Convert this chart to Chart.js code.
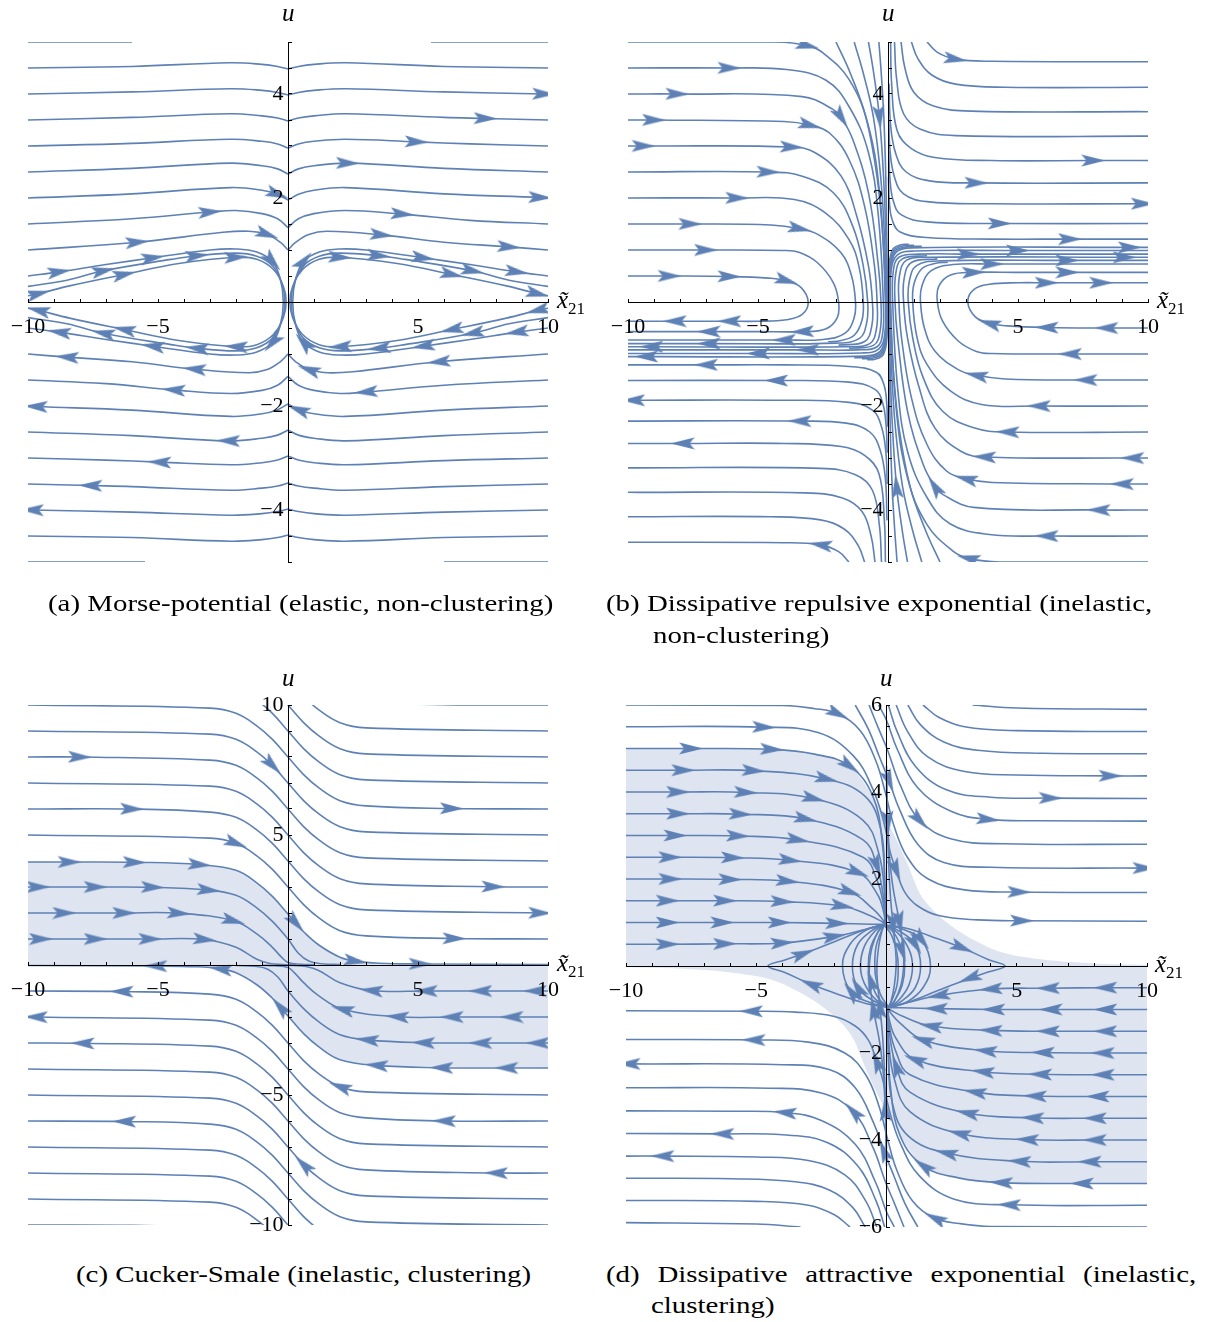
<!DOCTYPE html>
<html>
<head>
<meta charset="utf-8">
<title>Relative-dynamics stream plots</title>
<script src="https://cdn.jsdelivr.net/npm/chart.js@4.4.1/dist/chart.umd.min.js"></script>
<style>
  body { margin: 0; background: #fff; }
  #page { position: relative; width: 1211px; height: 1322px; font-family: "Liberation Serif", serif; color: #000; overflow: hidden; }
  canvas { position: absolute; }
  .ax { position: absolute; font-size: 25px; line-height: 1; white-space: nowrap; }
  .ax i { font-style: italic; }
  .ax sub { font-size: 17px; vertical-align: -6px; }
  .cap { position: absolute; font-size: 23px; line-height: 1; white-space: nowrap; transform-origin: 0 0; }
</style>
</head>
<body>
<div id="page">
  <canvas id="morse" width="600" height="580" style="left:0;top:0"></canvas>
  <canvas id="repel" width="611" height="580" style="left:600px;top:0"></canvas>
  <canvas id="cucker" width="600" height="610" style="left:0;top:640px"></canvas>
  <canvas id="attract" width="611" height="610" style="left:600px;top:640px"></canvas>

  <div class="ax" style="left:282px;top:0"><i>u</i></div>
  <div class="ax" style="left:557px;top:287px"><i>x̃</i><sub>21</sub></div>
  <div class="ax" style="left:882px;top:0"><i>u</i></div>
  <div class="ax" style="left:1157px;top:287px"><i>x̃</i><sub>21</sub></div>
  <div class="ax" style="left:282px;top:665px"><i>u</i></div>
  <div class="ax" style="left:557px;top:950px"><i>x̃</i><sub>21</sub></div>
  <div class="ax" style="left:880px;top:665px"><i>u</i></div>
  <div class="ax" style="left:1155px;top:951px"><i>x̃</i><sub>21</sub></div>

  <div class="cap" id="capA" style="left:48px;top:592px">(a) Morse-potential (elastic, non-clustering)</div>
  <div class="cap" style="left:606px;top:592px">(b) Dissipative repulsive exponential (inelastic,</div>
  <div class="cap" style="left:653px;top:624px">non-clustering)</div>
  <div class="cap" style="left:76px;top:1263px">(c) Cucker-Smale (inelastic, clustering)</div>
  <div class="cap" id="capD" style="left:606px;top:1263px">(d) Dissipative attractive exponential (inelastic,</div>
  <div class="cap" style="left:651px;top:1294px">clustering)</div>
</div>

<script>
// Streamlines as [x, u] points in flow order; a third entry of 1 marks an arrowhead there.
// Each panel is point-symmetric, so only the upper half is listed and the rest is that half turned about the origin.

const xTickLabels = [-10, -5, 5, 10];

// (a) Morse potential
const morseUTicks = [-4, -2, 2, 4];
const morseLeft = [
  [[-10, 5], [-6, 5]],
  [[-10, 4.5], [-6, 4.53], [-2.2, 4.6], [-1, 4.57], [-0.4, 4.53], [0, 4.48]],
  [[-10, 4], [-6, 4.04], [-2.2, 4.1], [-1, 4.07], [-0.4, 4.03], [0, 3.98]],
  [[-10, 3.5], [-6, 3.55], [-2.2, 3.62], [-1, 3.58], [-0.4, 3.54], [0, 3.48]],
  [[-10, 3], [-6, 3.05], [-2.2, 3.13], [-1, 3.09], [-0.4, 3.04], [0, 2.96]],
  [[-10, 2.5], [-6, 2.57], [-2.2, 2.67], [-1, 2.62], [-0.4, 2.56], [0, 2.46]],
  [[-10, 2], [-6, 2.08], [-2.2, 2.2], [-1, 2.15], [-0.4, 2.07, 1], [0, 1.96]],
  [[-10, 1.5], [-6, 1.6], [-3, 1.73, 1], [-2, 1.76], [-1, 1.7], [-0.4, 1.6], [0, 1.43]],
  [[-10, 1], [-5.8, 1.15, 1], [-2.5, 1.34], [-1.5, 1.36], [-0.8, 1.3, 1], [-0.3, 1.15], [0, 1]]
];
const morseRight = [
  [[5.5, 5], [10, 5]],
  [[0, 4.48], [0.4, 4.53], [1, 4.57], [2.2, 4.6], [6, 4.53], [10, 4.5]],
  [[0, 3.98], [0.4, 4.03], [1, 4.07], [2.2, 4.1], [6, 4.04], [9.85, 4, 1], [10, 4]],
  [[0, 3.48], [0.4, 3.54], [1, 3.58], [2.2, 3.62], [6, 3.55], [7.6, 3.53, 1], [10, 3.5]],
  [[0, 2.96], [0.4, 3.04], [1, 3.09], [2.2, 3.13], [4.95, 3.08, 1], [7, 3.04], [10, 3]],
  [[0, 2.46], [0.4, 2.56], [1, 2.62], [2.3, 2.67, 1], [6, 2.57], [10, 2.5]],
  [[0, 1.96], [0.4, 2.07], [1, 2.15], [2.2, 2.2], [6, 2.08], [9.7, 2.01, 1], [10, 2]],
  [[0, 1.43], [0.4, 1.6], [1, 1.7], [2.2, 1.76], [4.4, 1.69, 1], [7, 1.57], [10, 1.5]],
  [[0, 1], [0.3, 1.15], [0.8, 1.3], [1.5, 1.36], [3.6, 1.29, 1], [6, 1.15], [8.5, 1.06, 1], [10, 1]]
];
// upper halves of the turning orbits on the left; the part below the axis is their mirror image
const morseLoops = [
  [[-10, 0.5], [-8.8, 0.58, 1], [-7, 0.72], [-5.2, 0.85, 1], [-3, 1], [-2, 1.02], [-1.2, 0.96], [-0.6, 0.78, 1], [-0.3, 0.45], [-0.18, 0]],
  [[-10, 0.3], [-8.5, 0.42], [-7.1, 0.6, 1], [-4.5, 0.82], [-3.5, 0.89, 1], [-2, 0.94], [-1.2, 0.88], [-0.6, 0.7], [-0.25, 0.38], [-0.12, 0]],
  [[-10, 0.12], [-9.6, 0.16, 1], [-8.4, 0.31], [-6.3, 0.53, 1], [-4.2, 0.74], [-2, 0.86, 1], [-1.2, 0.82], [-0.55, 0.62], [-0.18, 0.3], [-0.07, 0]]
];

// (b) dissipative repulsive exponential
const repelUTicks = [-4, -2, 2, 4];
const repelLeft = [
  [[-10, 0.5], [-8.4, 0.5, 1], [-6.1, 0.49, 1], [-4.6, 0.46], [-3.9, 0.41, 1], [-3.35, 0.28], [-3.07, 0], [-3.3, -0.24], [-3.9, -0.34], [-5, -0.37], [-6.1, -0.37, 1], [-8.2, -0.37, 1], [-10, -0.37]],
  [[-10, 1], [-7, 1, 1], [-4, 0.99], [-3.4, 0.95], [-2.7, 0.75], [-2.1, 0.37], [-1.9, 0], [-1.95, -0.3], [-2.4, -0.52], [-3.3, -0.57, 1], [-5, -0.57], [-6.9, -0.57, 1], [-10, -0.57]],
  [[-10, 1.5], [-7.6, 1.5, 1], [-4.5, 1.48], [-3.4, 1.41, 1], [-2.7, 1.3], [-1.8, 0.94], [-1.4, 0.5], [-1.25, 0], [-1.3, -0.3], [-1.65, -0.6], [-2.5, -0.72], [-4, -0.73, 1], [-10, -0.73]],
  [[-10, 2], [-5.8, 2, 1], [-3.6, 1.97], [-2.4, 1.71], [-1.5, 1.2], [-1.12, 0.69], [-0.95, 0], [-1, -0.35], [-1.3, -0.64], [-1.8, -0.74], [-2.3, -0.765]],
  [[-10, 2.5], [-4.6, 2.5, 1], [-3.3, 2.42], [-2.1, 2.1], [-1.35, 1.45], [-0.95, 0.69], [-0.78, 0], [-0.82, -0.4], [-1.1, -0.7], [-2, -0.79], [-6.9, -0.8, 1], [-10, -0.8]],
  [[-10, 3], [-9.4, 3, 1], [-3.7, 2.98, 1], [-2.8, 2.87], [-1.8, 2.42], [-1.2, 1.65], [-0.75, 0.69], [-0.6, 0], [-0.62, -0.45], [-0.9, -0.76], [-1.9, -0.83]],
  [[-10, 3.5], [-9, 3.5, 1], [-4, 3.47], [-3, 3.4, 1], [-2.25, 3.25], [-1.5, 2.74], [-0.9, 1.84], [-0.52, 0.69], [-0.42, 0], [-0.44, -0.5], [-0.7, -0.8], [-1.6, -0.86], [-9.1, -0.86, 1], [-10, -0.86]],
  [[-10, 4], [-8.1, 4, 1], [-3.3, 3.95], [-2.1, 3.7], [-1.8, 3.55, 1], [-1.35, 3.12], [-0.75, 2.1], [-0.37, 0.69], [-0.27, 0], [-0.3, -0.55], [-0.55, -0.83], [-1.5, -0.89]],
  [[-10, 4.5], [-6.1, 4.5, 1], [-3.9, 4.47], [-2.4, 4.27], [-1.5, 3.76], [-0.75, 2.87], [-0.37, 1.65], [-0.18, 0], [-0.2, -0.58], [-0.42, -0.86], [-1.2, -0.92], [-3.1, -0.92, 1], [-10, -0.92]],
  [[-10, 5], [-4.3, 5], [-3.1, 4.93, 1], [-2.5, 4.79], [-1.5, 4.28], [-0.75, 3.38], [-0.3, 1.97], [-0.1, 0], [-0.12, -0.6], [-0.35, -0.9], [-1, -0.98], [-5, -0.99, 1], [-10, -0.99]],
  // lines entering through the top edge
  [[-2, 5], [-1.45, 4.4], [-0.85, 3.55], [-0.42, 2.4], [-0.19, 1.2], [-0.085, 0], [-0.1, -0.62], [-0.3, -0.95], [-0.9, -1.04], [-9.3, -1.05, 1], [-10, -1.05]],
  [[-1.3, 5], [-0.95, 4.4], [-0.56, 3.55], [-0.28, 2.4], [-0.13, 1.2], [-0.065, 0], [-0.08, -0.64], [-0.26, -0.97], [-0.7, -1.06], [-1.3, -1.07]],
  [[-0.75, 5], [-0.55, 4.4], [-0.33, 3.55, 1], [-0.17, 2.4], [-0.08, 1.2], [-0.045, 0], [-0.06, -0.66], [-0.22, -0.99], [-0.6, -1.08], [-1, -1.09]],
  [[-0.35, 5], [-0.26, 4.4], [-0.16, 3.55], [-0.085, 2.4], [-0.045, 1.2], [-0.025, 0], [-0.04, -0.68], [-0.18, -1.01], [-0.5, -1.1], [-0.8, -1.11]]
];
const repelTop = [
  [[1.5, 5], [1.9, 4.8], [2.6, 4.67, 1], [4, 4.63], [10, 4.62]],
  [[0.9, 5], [1.15, 4.68], [1.7, 4.36], [2.6, 4.19], [4.5, 4.13], [10, 4.13]],
  [[0.5, 5], [0.65, 4.5], [1, 4.03], [1.75, 3.77], [3.2, 3.67], [10, 3.66]],
  [[0.25, 5], [0.33, 4.3], [0.6, 3.62], [1.25, 3.32], [2.6, 3.2], [10, 3.19]],
  [[0.1, 5], [0.14, 4.2], [0.35, 3.3], [0.9, 2.95], [1.8, 2.78], [4, 2.72], [7.9, 2.72, 1], [10, 2.72]],
  [[0.04, 4.2], [0.1, 3.4], [0.3, 2.85], [0.7, 2.5], [1.6, 2.33], [3.4, 2.29, 1], [10, 2.29]],
  [[0.03, 3.5], [0.08, 2.9], [0.25, 2.4], [0.6, 2.08], [1.5, 1.93], [4, 1.89], [9.8, 1.89, 1], [10, 1.89]],
  [[0.03, 2.9], [0.07, 2.4], [0.2, 1.95], [0.5, 1.68], [1.5, 1.54], [4.3, 1.51, 1], [10, 1.51]],
  [[0.02, 2.4], [0.05, 1.95], [0.15, 1.6], [0.45, 1.35], [1.5, 1.24], [4, 1.21], [7, 1.21, 1], [10, 1.21]]
];

// (c) Cucker-Smale
const cuckerUTicks = [-10, -5, 5, 10];
const cuckerLines = [
  [[3.5, 10.08], [6, 10.01], [10, 10]],
  [[0.6, 10.32], [1.2, 9.8], [2, 9.32], [3, 9.12], [10, 9]],
  [[-0.6, 10.68], [0, 10], [0.6, 9.32], [1.2, 8.8], [2, 8.32], [3, 8.12], [10, 8]],
  [[-1.2, 10.2], [-0.6, 9.68], [0, 9], [0.6, 8.32], [1.2, 7.8], [2, 7.32], [3, 7.12], [10, 7]],
  [[-10, 10], [-3, 9.88], [-2, 9.68], [-1.2, 9.2], [-0.6, 8.68], [0, 8], [0.6, 7.32], [1.2, 6.8], [2, 6.32], [3, 6.12], [6.3, 6.02, 1], [10, 6]],
  [[-10, 9], [-3, 8.88], [-2, 8.68], [-1.2, 8.2], [-0.6, 7.68, 1], [0, 7], [0.6, 6.32], [1.2, 5.8], [2, 5.32], [3, 5.12], [10, 5]],
  [[-10, 8], [-8, 8, 1], [-3, 7.88], [-2, 7.68], [-1.2, 7.2], [-0.6, 6.68], [0, 6], [0.6, 5.32], [1.2, 4.8], [2, 4.32], [3, 4.12], [10, 4]],
  [[-10, 7], [-3, 6.88], [-2, 6.68], [-1.2, 6.2], [-0.6, 5.68], [0, 5], [0.6, 4.32], [1.2, 3.8], [2, 3.32], [3, 3.12], [7.9, 3.01, 1], [10, 3]],
  [[-10, 6], [-6, 6, 1], [-3, 5.88], [-2, 5.68], [-1.2, 5.2], [-0.6, 4.68], [0, 4], [0.6, 3.32], [1.2, 2.8], [2, 2.32], [3, 2.12], [9.7, 2, 1], [10, 2]],
  [[-10, 5], [-3, 4.88], [-2, 4.68, 1], [-1.2, 4.2], [-0.6, 3.68], [0, 3], [0.6, 2.32], [1.2, 1.8], [2, 1.32], [3, 1.12], [6.4, 1.02, 1], [10, 1]],
  [[-10, 3.96], [-8.4, 3.96, 1], [-5.9, 3.95, 1], [-3.4, 3.86, 1], [-2, 3.64], [-1.2, 3.16], [-0.6, 2.64], [0, 1.96], [0.3, 1.62, 1], [0.6, 1.28], [1.2, 0.76], [2, 0.3], [2.6, 0.15, 1], [3.5, 0.07], [5.1, 0.04, 1], [10, 0.02]],
  [[-10, 3], [-9.6, 3, 1], [-7.4, 3, 1], [-5.2, 2.99, 1], [-3.05, 2.88, 1], [-2, 2.68], [-1.2, 2.2], [-0.6, 1.68], [0, 1], [0.4, 0.45], [0.8, 0.15], [1.3, 0.05], [2, 0.02]],
  [[-10, 2], [-8.6, 2, 1], [-6.3, 2, 1], [-4.2, 1.99, 1], [-2.1, 1.7, 1], [-1.2, 1.2], [-0.6, 0.68], [-0.25, 0.3], [0, 0.1], [0.5, 0.03], [1, 0.01]],
  [[-10, 1], [-9.5, 1, 1], [-7.4, 1, 1], [-5.3, 1, 1], [-3.2, 0.98, 1], [-2, 0.68], [-1.2, 0.22], [-0.7, 0.06], [-0.2, 0.02], [0.3, 0.01]]
];
const cuckerShade = [[-10, 3.96], [-3.4, 3.86], [-2, 3.64], [-1.2, 3.16], [-0.6, 2.64], [0, 1.96], [0.6, 1.28], [1.2, 0.76], [2, 0.3], [3, 0.1], [4, 0.03], [10, 0]];

// (d) dissipative attractive exponential
const attractUTicks = [-6, -4, -2, 2, 4, 6];
const attractLeft = [
  [[-10, 5], [-7.5, 5, 1], [-4.4, 4.98, 1], [-2.76, 4.87], [-1.42, 4.6, 1], [-0.52, 3.9], [-0.15, 2.76], [-0.06, 1.6], [-0.05, 0.97]],
  [[-10, 4.5], [-7.8, 4.5, 1], [-5.1, 4.49, 1], [-2.3, 4.3, 1], [-0.82, 3.9], [-0.22, 3.14], [-0.07, 2], [-0.05, 0.97]],
  [[-10, 4], [-8, 4, 1], [-5.4, 3.99, 1], [-2.8, 3.85, 1], [-0.9, 3.35], [-0.3, 2.6], [-0.08, 1.7], [-0.05, 0.97]],
  [[-10, 3.5], [-8, 3.5, 1], [-5.6, 3.49, 1], [-3.1, 3.38, 1], [-0.9, 2.9], [-0.37, 2.3, 1], [-0.1, 1.5], [-0.05, 0.97]],
  [[-10, 3], [-8.1, 3, 1], [-5.7, 2.99, 1], [-3.4, 2.9, 1], [-0.9, 2.5], [-0.35, 1.95], [-0.1, 1.35], [-0.05, 0.97]],
  [[-10, 2.5], [-8.3, 2.5, 1], [-5.9, 2.49, 1], [-3.7, 2.43, 1], [-1.1, 2.15, 1], [-0.35, 1.65], [-0.1, 1.22], [-0.05, 0.97]],
  [[-10, 2], [-8.3, 2, 1], [-6, 1.99, 1], [-3.8, 1.95, 1], [-1.4, 1.7, 1], [-0.5, 1.3], [-0.15, 1.07], [-0.05, 0.97]],
  [[-10, 1.5], [-8.4, 1.5, 1], [-6.2, 1.5, 1], [-4, 1.48, 1], [-1.7, 1.38, 1], [-0.6, 1.15], [-0.15, 1.01], [-0.05, 0.97]],
  [[-10, 1], [-8.4, 1, 1], [-6.3, 1, 1], [-4.1, 1, 1], [-1.9, 0.98, 1], [-0.6, 0.96], [-0.05, 0.96]],
  [[-10, 0.5], [-8.4, 0.5, 1], [-6.2, 0.51, 1], [-4, 0.53, 1], [-2, 0.68, 1], [-0.82, 0.84], [-0.3, 0.92], [-0.05, 0.96]]
];
const attractCross = [
  [[-10, 6], [-4, 5.99], [-2.8, 5.92], [-1.87, 5.8, 1], [-1, 5.4], [-0.4, 4.7], [-0.05, 4], [0.3, 3.2], [0.8, 2.5], [1.6, 2], [3, 1.75], [5.1, 1.7, 1], [10, 1.69]],
  [[-10, 5.5], [-4.7, 5.49, 1], [-2.6, 5.36], [-1.27, 4.83], [-0.52, 4.06], [-0.1, 3.3], [0.15, 2.6], [0.37, 2.2, 1], [0.7, 1.7], [1.2, 1.38], [2, 1.16], [3.5, 1.06], [5.2, 1.04, 1], [10, 1.03]],
  [[-1.2, 6], [-0.7, 5.45], [-0.3, 4.85], [0.1, 4.25, 1], [0.5, 3.6], [1.2, 2.8], [2.2, 2.38], [4, 2.27], [9.9, 2.25, 1], [10, 2.25]],
  [[-0.67, 6], [-0.3, 5.45], [0.05, 4.95], [0.5, 4.2], [1.27, 3.35, 1], [2.5, 2.92], [4.5, 2.81], [10, 2.8]],
  [[-0.3, 6], [0, 5.65], [0.4, 5], [1.2, 4.1], [2.5, 3.55], [3.9, 3.37, 1], [6, 3.34], [10, 3.33]],
  [[0.07, 6], [0.4, 5.4], [1.1, 4.6], [2.3, 4.05], [4, 3.88], [6.3, 3.86, 1], [10, 3.85]],
  [[0.37, 6], [0.8, 5.4], [1.6, 4.8], [3, 4.47], [5, 4.39], [8.6, 4.37, 1], [10, 4.37]],
  [[0.82, 6], [1.3, 5.55], [2.2, 5.15], [3.5, 4.96], [6, 4.89], [10, 4.88]],
  [[1.4, 6], [2, 5.72], [3, 5.5], [5, 5.41], [10, 5.39]],
  [[3.3, 6], [5, 5.93], [10, 5.9]],
  [[0, 4.2], [0.03, 3.5], [0.07, 2.6], [0.14, 1.7], [0.25, 0.95, 1], [0.35, 0.35], [0.37, 0], [0.3, -0.45], [0.18, -0.8], [0.08, -0.94]],
  [[0, 4.6], [0.05, 3.3, 1], [0.12, 2.5], [0.25, 1.8], [0.5, 1, 1], [0.64, 0.4], [0.66, 0], [0.55, -0.45], [0.3, -0.82], [0.08, -0.95]]
];
const attractLoops = [
  [[0.1, -0.95], [-0.8, -0.86], [-2, -0.62], [-2.9, -0.42, 1], [-3.9, -0.15], [-4.55, 0], [-3.9, 0.14], [-3.2, 0.28, 1], [-2, 0.56], [-0.8, 0.84], [-0.08, 0.96]],
  [[0.1, -0.95], [-0.6, -0.85], [-1.35, -0.6, 1], [-1.69, 0], [-1.4, 0.5], [-0.8, 0.82], [-0.08, 0.96]],
  [[0.1, -0.95], [-0.5, -0.8], [-1.1, -0.5, 1], [-1.31, 0], [-1.1, 0.5], [-0.55, 0.82], [-0.08, 0.96]],
  [[0.1, -0.95], [-0.4, -0.78], [-0.85, -0.4], [-1, 0], [-0.85, 0.45], [-0.45, 0.8], [-0.08, 0.96]],
  [[0.1, -0.95], [-0.3, -0.75], [-0.6, -0.35, 1], [-0.7, 0], [-0.6, 0.45], [-0.3, 0.8], [-0.08, 0.96]],
  [[0.1, -0.95], [-0.2, -0.7], [-0.4, -0.3], [-0.45, 0], [-0.4, 0.45], [-0.2, 0.8], [-0.08, 0.96]]
];
const attractShade = [[-10, 5], [-4, 4.98], [-2.76, 4.87], [-1.42, 4.6], [-0.52, 3.9], [-0.1, 3.45], [0.35, 2.95], [0.77, 2.4], [1.4, 1.55], [2.58, 0.88], [4.3, 0.34], [6, 0.15], [8, 0.06], [10, 0.03]];

const LINE = '#5e81b5';
const FILL = '#dfe5f0';
Chart.defaults.font.family = '"Liberation Serif", serif';
Chart.defaults.color = '#000';

const turn = lines => lines.map(l => l.map(p => [-p[0], -p[1], p[2]]));
const closeBelow = half => half.concat(half.slice(0, -1).reverse().map(p => [p[0], -p[1], p[2]]));
const fmt = v => (v < 0 ? '\u2212' : '') + Math.abs(v);
const toXY = line => line.map(p => ({ x: p[0], y: p[1] }));

function arrowImage() {
  const c = document.createElement('canvas');
  c.width = 24; c.height = 13;
  const g = c.getContext('2d');
  g.fillStyle = LINE;
  g.beginPath();
  g.moveTo(24, 6.5); g.lineTo(0, 0.5); g.lineTo(5, 6.5); g.lineTo(0, 12.5);
  g.closePath(); g.fill();
  return c;
}
const ARROW = arrowImage();

function arrowPoints(lines) {
  const out = [];
  lines.forEach(line => line.forEach((p, i) => {
    if (!p[2]) return;
    const a = line[Math.max(i - 1, 0)], b = line[Math.min(i + 1, line.length - 1)];
    out.push({ x: p[0], y: p[1], from: a, to: b });
  }));
  return out;
}

function arrowAngle(ctx) {
  const r = ctx.raw;
  if (!r || !r.from) return 0;
  const sx = ctx.chart.scales.x, sy = ctx.chart.scales.y;
  const dx = sx.getPixelForValue(r.to[0]) - sx.getPixelForValue(r.from[0]);
  const dy = sy.getPixelForValue(r.to[1]) - sy.getPixelForValue(r.from[1]);
  return Math.atan2(dy, dx) * 180 / Math.PI;
}

// axes cross at the origin and take no layout room; tick marks point into the upper / right side
function axis(min, max, step, labels, position, horizontal) {
  return {
    type: 'linear', min, max, position,
    afterFit: s => {
      if (horizontal) { s.height = 0; s.paddingLeft = 0; s.paddingRight = 0; }
      else { s.width = 0; s.paddingTop = 0; s.paddingBottom = 0; }
    },
    border: { color: '#000', width: 1, z: 1 },
    grid: { drawOnChartArea: false, drawTicks: true, tickLength: -4, color: '#000', z: 1 },
    ticks: {
      stepSize: step, autoSkip: false, maxRotation: 0, maxTicksLimit: 100,
      padding: horizontal ? 16 : 7, color: '#000', z: 1, font: { size: 22 },
      callback: v => labels.includes(v) ? fmt(v) + (horizontal ? '' : '\u2009') : ''
    }
  };
}

function streamChart(id, cfg) {
  const datasets = [];
  cfg.shade.forEach(s => datasets.push({
    data: toXY(s), showLine: true, fill: { value: 0 }, backgroundColor: FILL,
    borderColor: FILL, borderWidth: 0, pointRadius: 0, tension: 0.3, order: 3
  }));
  cfg.lines.forEach(l => datasets.push({
    data: toXY(l), showLine: true, fill: false, borderColor: LINE, borderWidth: 1.6,
    pointRadius: 0, tension: 0.4, order: 2
  }));
  datasets.push({
    data: arrowPoints(cfg.lines), showLine: false, pointStyle: ARROW,
    pointRadius: 4, pointRotation: arrowAngle, order: 1
  });
  return new Chart(document.getElementById(id), {
    type: 'scatter',
    data: { datasets },
    options: {
      responsive: false, animation: false, events: [],
      layout: { padding: cfg.pad },
      plugins: { legend: { display: false }, tooltip: { enabled: false } },
      scales: {
        x: axis(-10, 10, 1, xTickLabels, { y: 0 }, true),
        y: axis(cfg.min, cfg.max, cfg.step, cfg.ticks, { x: 0 }, false)
      }
    }
  });
}

const morseHalf = morseLeft.concat(morseRight, morseLoops.map(closeBelow));
streamChart('morse', {
  lines: morseHalf.concat(turn(morseHalf)), shade: [],
  min: -5, max: 5, step: 0.5, ticks: morseUTicks,
  pad: { left: 28, right: 52, top: 42, bottom: 18 }
});

const repelHalf = repelLeft.concat(repelTop);
streamChart('repel', {
  lines: repelHalf.concat(turn(repelHalf)), shade: [],
  min: -5, max: 5, step: 0.5, ticks: repelUTicks,
  pad: { left: 28, right: 63, top: 42, bottom: 18 }
});

streamChart('cucker', {
  lines: cuckerLines.concat(turn(cuckerLines)),
  shade: [cuckerShade].concat(turn([cuckerShade])),
  min: -10, max: 10, step: 1, ticks: cuckerUTicks,
  pad: { left: 28, right: 52, top: 65, bottom: 25 }
});

const attractHalf = attractLeft.concat(attractCross, attractLoops);
streamChart('attract', {
  lines: attractHalf.concat(turn(attractHalf)),
  shade: [attractShade].concat(turn([attractShade])),
  min: -6, max: 6, step: 0.5, ticks: attractUTicks,
  pad: { left: 26, right: 64, top: 65, bottom: 23 }
});

// captions: stretch the serif a little to the width of the original typesetting
const k = 505 / document.getElementById('capA').scrollWidth;
document.querySelectorAll('.cap').forEach(el => { el.style.transform = 'scaleX(' + k.toFixed(3) + ')'; });
const capD = document.getElementById('capD');
const gaps = capD.textContent.split(' ').length - 1;
capD.style.wordSpacing = ((590 / k - capD.scrollWidth) / gaps).toFixed(2) + 'px';
</script>
</body>
</html>
